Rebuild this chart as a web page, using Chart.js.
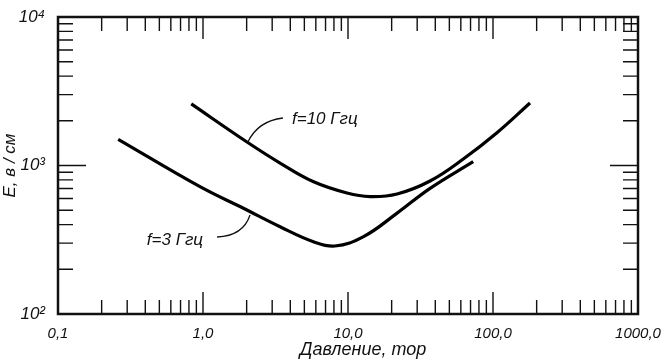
<!DOCTYPE html>
<html>
<head>
<meta charset="utf-8">
<script src="https://cdn.jsdelivr.net/npm/chart.js@4.4.0/dist/chart.umd.min.js"></script>
<style>
  html, body { margin: 0; padding: 0; background: #fff; }
  #wrap { width: 662px; height: 361px; }
</style>
</head>
<body>
<div id="wrap"><canvas id="myChart"></canvas></div>
<script>
// breakdown field vs pressure, two frequencies
const pressure10 = [0.83, 2.01, 3.4, 5.74, 9.84, 14.2, 21.8, 36.8, 62.4, 106, 180];
const field10 = [2600, 1440, 1039, 780, 653, 618, 643, 786, 1106, 1655, 2636];
const pressure3 = [0.26, 0.953, 1.9, 3.4, 5.77, 8.13, 12.8, 21.7, 36.8, 73];
const field3 = [1500, 720, 515, 387, 307, 287, 332, 476, 702, 1062];

const xDecades = [0.1, 1, 10, 100, 1000];
const xTickLabels = ["0,1", "1,0", "10,0", "100,0", "1000,0"];
const yDecades = [100, 1000, 10000];
const yTickLabels = ["10²", "10³", "10⁴"];
const seriesNames = ["f=10 Ггц", "f=3 Ггц"];
const xTitle = "Давление, тор";
const xTitleAt = 12.7;

// label text spot + leader (start, bend, end) in data units
const notes = [
  {text: seriesNames[0], at: [4.11, 2055], align: "left",
   lead: [[3.56, 2089], [2.39, 1995], [2.04, 1438]]},
  {text: seriesNames[1], at: [1.0, 315], align: "right",
   lead: [[1.25, 330], [1.89, 335], [2.11, 464]]}
];

const fontFamily = "'Liberation Sans', 'DejaVu Sans', sans-serif";
const italic = {family: fontFamily, size: 17, style: "italic"};

const toPoints = (xs, ys) => xs.map((v, i) => ({x: v, y: ys[i]}));

const frame = {
  id: "frame",
  afterDatasetsDraw(chart) {
    const {ctx, chartArea: a, scales: {x, y}} = chart;
    ctx.save();
    ctx.strokeStyle = "#111";
    ctx.lineWidth = 2.5;
    ctx.strokeRect(a.left, a.top, a.right - a.left, a.bottom - a.top);

    // inward ticks on all four sides
    ctx.lineWidth = 1.4;
    ctx.beginPath();
    for (let d = 0; d < xDecades.length - 1; d++) {
      for (let m = 1; m <= 9; m++) {
        if (d === 0 && m === 1) continue;
        const px = x.getPixelForValue(xDecades[d] * m);
        const len = m === 1 ? 22 : 14;
        ctx.moveTo(px, a.bottom); ctx.lineTo(px, a.bottom - len);
        ctx.moveTo(px, a.top); ctx.lineTo(px, a.top + len);
      }
    }
    for (let d = 0; d < yDecades.length - 1; d++) {
      for (let m = 1; m <= 9; m++) {
        if (d === 0 && m === 1) continue;
        const py = y.getPixelForValue(yDecades[d] * m);
        const len = m === 1 ? 28 : 15;
        ctx.moveTo(a.left, py); ctx.lineTo(a.left + len, py);
        ctx.moveTo(a.right, py); ctx.lineTo(a.right - len, py);
      }
    }
    ctx.stroke();

    // curve labels with leaders
    ctx.fillStyle = "#111";
    ctx.font = "italic 17px " + fontFamily;
    ctx.textBaseline = "middle";
    ctx.lineWidth = 1.3;
    notes.forEach(n => {
      ctx.textAlign = n.align;
      ctx.fillText(n.text, x.getPixelForValue(n.at[0]), y.getPixelForValue(n.at[1]));
      const p = n.lead.map(q => [x.getPixelForValue(q[0]), y.getPixelForValue(q[1])]);
      ctx.beginPath();
      ctx.moveTo(p[0][0], p[0][1]);
      ctx.quadraticCurveTo(p[1][0], p[1][1], p[2][0], p[2][1]);
      ctx.stroke();
    });

    // pressure axis title
    ctx.font = "italic 18px " + fontFamily;
    ctx.textAlign = "center";
    ctx.textBaseline = "alphabetic";
    ctx.fillText(xTitle, x.getPixelForValue(xTitleAt), a.bottom + 41);
    ctx.restore();
  }
};

new Chart("myChart", {
  type: "line",
  data: {
    datasets: [
      {label: seriesNames[0], data: toPoints(pressure10, field10)},
      {label: seriesNames[1], data: toPoints(pressure3, field3)}
    ]
  },
  options: {
    responsive: true,
    maintainAspectRatio: false,
    animation: false,
    layout: {padding: {top: 17, right: 24, left: 0, bottom: 0}},
    elements: {
      line: {borderColor: "#000", borderWidth: 3.2, tension: 0.4, fill: false},
      point: {radius: 0}
    },
    plugins: {legend: {display: false}, tooltip: {enabled: false}},
    scales: {
      x: {
        type: "logarithmic",
        min: 0.1, max: 1000,
        grid: {display: false},
        border: {display: false},
        afterBuildTicks: s => { s.ticks = xDecades.map(v => ({value: v})); },
        afterFit: s => { s.height = 47; s.paddingLeft = 0; s.paddingRight = 0; },
        ticks: {
          autoSkip: false, maxRotation: 0, padding: 3, color: "#111",
          font: {family: fontFamily, size: 15, style: "italic"},
          callback: (v, i) => xTickLabels[i]
        }
      },
      y: {
        type: "logarithmic",
        min: 100, max: 10000,
        grid: {display: false},
        border: {display: false},
        afterBuildTicks: s => { s.ticks = yDecades.map(v => ({value: v})); },
        afterFit: s => { s.width = 58; s.paddingTop = 0; s.paddingBottom = 0; },
        ticks: {
          autoSkip: false, padding: 5, color: "#111", font: italic,
          callback: (v, i) => yTickLabels[i]
        },
        title: {display: true, text: "E, в / см", color: "#111", font: italic, padding: {top: 0, bottom: 0}}
      }
    }
  },
  plugins: [frame]
});
</script>
</body>
</html>
